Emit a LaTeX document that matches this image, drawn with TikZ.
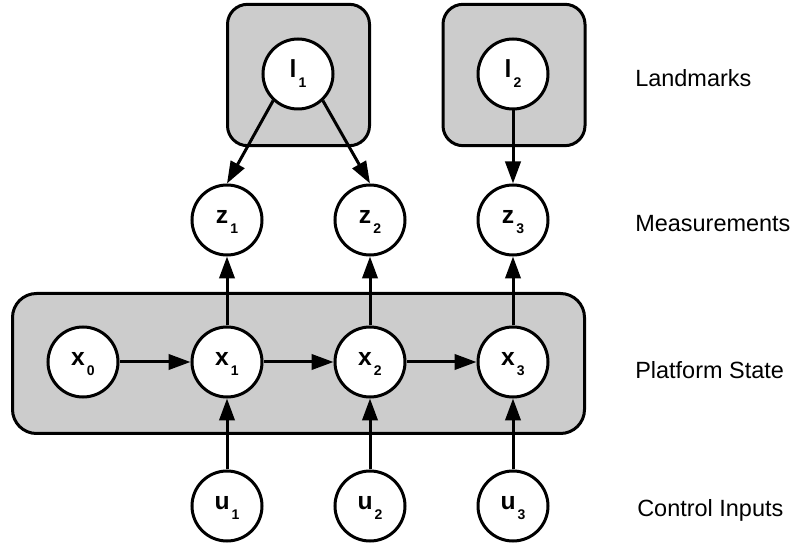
\documentclass[tikz,border=0pt]{standalone}
\usepackage{fontspec}
\setmainfont{Liberation Sans}
\usetikzlibrary{arrows.meta}
\definecolor{boxgray}{RGB}{204,204,204}
% variable name with a small bold index set low and to the right
\newcommand{\varsub}[2]{\textbf{#1}\hspace{1.5pt}\raisebox{-7.5pt}{\fontsize{10.5pt}{11pt}\selectfont\bfseries #2}}
\tikzset{
  var/.style={circle, draw=black, fill=white, line width=2.25pt, minimum size=52.5pt,
    inner sep=0pt, font=\fontsize{18.5pt}{20pt}\selectfont, text height=13pt, text depth=8pt},
  group/.style={draw=black, fill=boxgray, line width=2.25pt, inner sep=0pt},
  edge/.style={line width=2.25pt, -{Triangle[length=16.5pt, width=11.5pt]}},
  rowlabel/.style={anchor=base west, inner sep=0pt, font=\fontsize{17.6pt}{19pt}\selectfont}
}
\begin{document}
\begin{tikzpicture}[x=0.75pt, y=-0.75pt]
\useasboundingbox (0,0) rectangle (794,549);

% grouping boxes
\node[group, rounded corners=18pt, minimum width=429pt, minimum height=105pt] (platform) at (298.5,363.5) {};
\node[group, rounded corners=15pt, minimum width=106.5pt, minimum height=106pt] (lbox1) at (298.5,75) {};
\node[group, rounded corners=15pt, minimum width=106.5pt, minimum height=106pt] (lbox2) at (514,75) {};

% landmarks
\node[var] (l1) at (298,74) {\varsub{l}{1}};
\node[var] (l2) at (513,74) {\varsub{l}{2}};

% measurements
\node[var] (z1) at (227,220) {\varsub{z}{1}};
\node[var] (z2) at (370,220) {\varsub{z}{2}};
\node[var] (z3) at (513,220) {\varsub{z}{3}};

% platform states
\node[var] (x0) at (83,362) {\varsub{x}{0}};
\node[var] (x1) at (227,362) {\varsub{x}{1}};
\node[var] (x2) at (370,362) {\varsub{x}{2}};
\node[var] (x3) at (513,362) {\varsub{x}{3}};

% control inputs
\node[var] (u1) at (227,506) {\varsub{u}{1}};
\node[var] (u2) at (370,506) {\varsub{u}{2}};
\node[var] (u3) at (513,506) {\varsub{u}{3}};

% state transitions
\draw[edge] (x0) -- (x1);
\draw[edge] (x1) -- (x2);
\draw[edge] (x2) -- (x3);

% controls drive the states
\draw[edge] (u1) -- (x1);
\draw[edge] (u2) -- (x2);
\draw[edge] (u3) -- (x3);

% states produce measurements
\draw[edge] (x1) -- (z1);
\draw[edge] (x2) -- (z2);
\draw[edge] (x3) -- (z3);

% landmarks observed in measurements
\draw[edge] (l1.227) -- (z1.north);
\draw[edge] (l1.313) -- (z2.north);
\draw[edge] (l2) -- (z3);

% row captions
\node[rowlabel] (capL) at (635,87) {Landmarks};
\node[rowlabel] (capM) at (635,232) {Measurements};
\node[rowlabel] (capP) at (635,379) {Platform State};
\node[rowlabel] (capC) at (637,517) {Control Inputs};
\end{tikzpicture}
\end{document}
